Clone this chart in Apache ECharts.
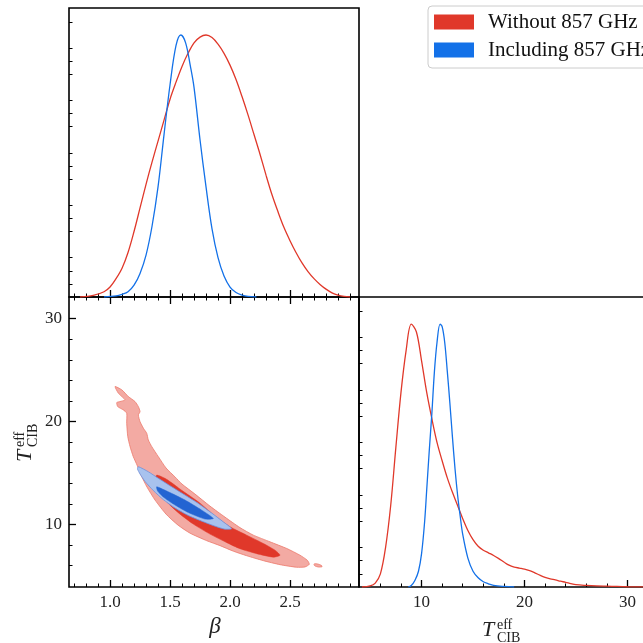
<!DOCTYPE html>
<html><head><meta charset="utf-8">
<script src="https://cdn.jsdelivr.net/npm/echarts@6/dist/echarts.min.js"></script>
<style>html,body{margin:0;padding:0;background:#fff}#c{width:643px;height:643px}</style>
</head><body><div id="c"></div>
<script>
// ---------- data ----------
const seriesNames = ['Without 857 GHz', 'Including 857 GHz'];
const betaTicks = [1.0, 1.5, 2.0, 2.5];
const betaMinorTicks = [0.7,0.8,0.9,1.1,1.2,1.3,1.4,1.6,1.7,1.8,1.9,2.1,2.2,2.3,2.4,2.6,2.7,2.8,2.9,3.0];
const tTicks = [10, 20, 30];
const tMinorTicks = [6,8,12,14,16,18,22,24,26,28];
const densMinorTicks = [0.05,0.1,0.15,0.25,0.3,0.35,0.45,0.5,0.55,0.65,0.7,0.75,0.85,0.9,0.95,1.05];
const betaRange = [0.658, 3.075];
const tRange = [3.92, 32.1];
const densMax = 1.103;

// 1D marginal: beta, without 857
const betaGridRed = [0.75,0.86,0.95,1.0,1.05,1.10,1.15,1.20,1.25,1.30,1.35,1.40,1.45,1.50,1.55,1.60,1.65,1.70,1.75,1.80,1.85,1.90,1.95,2.00,2.05,2.10,2.15,2.20,2.25,2.30,2.35,2.40,2.45,2.50,2.55,2.60,2.65,2.70,2.75,2.80,2.85,2.90,2.95,3.00];
const betaDensRed = [0,0.006,0.02,0.038,0.07,0.11,0.17,0.25,0.34,0.43,0.515,0.595,0.675,0.755,0.82,0.88,0.93,0.97,0.992,1.0,0.99,0.965,0.93,0.885,0.83,0.765,0.695,0.62,0.545,0.465,0.39,0.325,0.265,0.215,0.17,0.13,0.097,0.07,0.048,0.03,0.016,0.007,0.002,0];
// 1D marginal: beta, including 857
const betaGridBlue = [0.95,1.05,1.10,1.15,1.20,1.25,1.30,1.35,1.40,1.45,1.50,1.55,1.59,1.63,1.67,1.70,1.75,1.80,1.85,1.90,1.95,2.00,2.05,2.10,2.15,2.22];
const betaDensBlue = [0,0.004,0.01,0.02,0.045,0.09,0.16,0.27,0.42,0.62,0.81,0.96,1.0,0.97,0.88,0.80,0.60,0.42,0.26,0.15,0.08,0.038,0.017,0.007,0.002,0];
// 1D marginal: T_CIB, without 857
const tGridRed = [4.2,5.0,5.5,6.0,6.5,7.0,7.5,8.0,8.5,9.0,9.5,10.0,10.5,11.0,11.5,12.0,12.5,13.0,13.5,14.0,14.5,15.0,15.5,16.0,16.5,17.0,17.5,18.0,18.5,19.0,19.5,20.0,20.5,21.0,21.5,22.0,22.5,23.0,23.5,24.0,24.5,25.0,26.0,27.0,28.0,29.0,30.0,32.0];
const tDensRed = [0,0.004,0.015,0.05,0.15,0.31,0.53,0.74,0.90,1.0,0.97,0.86,0.74,0.64,0.55,0.48,0.415,0.36,0.31,0.26,0.215,0.18,0.155,0.14,0.13,0.12,0.108,0.095,0.083,0.076,0.072,0.068,0.062,0.054,0.045,0.037,0.031,0.027,0.022,0.018,0.013,0.009,0.006,0.004,0.003,0.002,0.001,0];
// 1D marginal: T_CIB, including 857
const tGridBlue = [8.7,9.0,9.35,9.7,10.0,10.3,10.5,10.75,11.0,11.25,11.5,11.8,12.0,12.25,12.5,12.75,13.0,13.25,13.5,13.75,14.0,14.5,15.0,15.5,16.0,16.5,17.0,18.0,19.0];
const tDensBlue = [0,0.006,0.025,0.06,0.127,0.25,0.37,0.52,0.66,0.82,0.93,1.0,0.99,0.93,0.82,0.70,0.57,0.45,0.35,0.27,0.20,0.11,0.06,0.035,0.02,0.012,0.006,0.002,0];

// 2D contours (beta, T_CIB)
const redContour95 = [[1.042,23.40],[1.098,23.08],[1.153,22.42],[1.208,21.94],[1.236,21.45],[1.250,20.96],[1.236,20.64],[1.250,19.99],[1.278,19.35],[1.306,18.86],[1.319,18.21],[1.348,17.56],[1.403,16.58],[1.467,15.48],[1.542,14.61],[1.600,13.92],[1.708,12.95],[1.833,11.78],[1.958,10.71],[2.083,9.69],[2.194,8.96],[2.333,8.31],[2.473,7.66],[2.583,7.01],[2.644,6.52],[2.661,6.13],[2.625,5.87],[2.556,5.84],[2.417,6.09],[2.278,6.48],[2.139,6.96],[2.028,7.40],[1.917,7.94],[1.806,8.42],[1.667,9.15],[1.567,9.93],[1.467,11.00],[1.375,12.37],[1.308,13.63],[1.258,14.80],[1.225,15.77],[1.194,16.58],[1.167,17.56],[1.148,18.53],[1.139,19.83],[1.139,20.81],[1.111,21.13],[1.064,21.45],[1.056,21.84],[1.083,21.94],[1.125,22.10],[1.069,22.76]];
const redIsland95 = [[2.704,6.18],[2.733,6.15],[2.763,6.01],[2.767,5.89],[2.738,5.86],[2.708,5.96],[2.700,6.08]];
const redContour68 = [[1.389,14.80],[1.458,14.48],[1.517,14.02],[1.583,13.44],[1.667,12.76],[1.750,12.07],[1.875,10.81],[2.000,9.77],[2.139,8.96],[2.278,8.15],[2.375,7.50],[2.417,7.01],[2.361,6.82],[2.222,7.16],[2.083,7.64],[1.973,8.23],[1.833,9.06],[1.694,10.03],[1.583,11.00],[1.483,12.07],[1.425,13.05],[1.392,14.02],[1.382,14.51]];
const blueContour95 = [[1.236,15.61],[1.319,15.12],[1.403,14.48],[1.514,13.66],[1.625,12.85],[1.736,12.04],[1.848,11.10],[1.944,10.25],[2.014,9.59],[1.958,9.54],[1.875,9.83],[1.764,10.32],[1.653,10.86],[1.542,11.59],[1.444,12.41],[1.361,13.29],[1.292,14.17],[1.250,14.90],[1.229,15.38]];
const blueContour68 = [[1.389,13.66],[1.486,13.17],[1.625,12.37],[1.764,11.39],[1.861,10.58],[1.792,10.52],[1.653,11.15],[1.542,11.88],[1.444,12.66],[1.397,13.24]];

// ---------- styling ----------
const RED = '#e0382a', BLUE = '#1371e8';
const SERIF = '"Liberation Serif", "DejaVu Serif", serif';

function tickAxis(type, grid, pos, range, ticks, len, width, labelFmt) {
  const a = {
    type: 'value', gridIndex: grid, position: pos, min: range[0], max: range[1],
    axisLine: { show: false }, splitLine: { show: false },
    axisTick: { show: true, inside: true, length: len, customValues: ticks, lineStyle: { color: '#000', width: width } },
    axisLabel: { show: false }
  };
  if (labelFmt) {
    a.axisLabel = { show: true, customValues: ticks, margin: 7, color: '#222', fontFamily: SERIF, fontSize: 17, formatter: labelFmt };
  }
  return a;
}
const fmtB = v => Number(v).toFixed(1);
const fmtT = v => String(Math.round(v));

const xAxes = [
  tickAxis('x', 0, 'bottom', betaRange, betaTicks, 7, 1.3),          //0
  tickAxis('x', 0, 'bottom', betaRange, betaMinorTicks, 3.5, 1),     //1
  tickAxis('x', 1, 'bottom', betaRange, betaTicks, 7, 1.3, fmtB),    //2
  tickAxis('x', 1, 'bottom', betaRange, betaMinorTicks, 3.5, 1),     //3
  tickAxis('x', 1, 'top', betaRange, betaTicks, 7, 1.3),             //4
  tickAxis('x', 1, 'top', betaRange, betaMinorTicks, 3.5, 1),        //5
  tickAxis('x', 2, 'bottom', tRange, tTicks, 7, 1.3, fmtT),          //6
  tickAxis('x', 2, 'bottom', tRange, tMinorTicks, 3.5, 1)            //7
];
const yAxes = [
  tickAxis('y', 0, 'left', [0, densMax], densMinorTicks, 3.5, 1),    //0
  tickAxis('y', 1, 'left', tRange, tTicks, 7, 1.3, fmtT),            //1
  tickAxis('y', 1, 'left', tRange, tMinorTicks, 3.5, 1),             //2
  tickAxis('y', 2, 'left', [0, densMax], densMinorTicks, 3.5, 1)     //3
];

function lineSeries(name, xs, ys, color, xi, yi) {
  return {
    type: 'line', name: name, xAxisIndex: xi, yAxisIndex: yi,
    data: xs.map((x, i) => [x, ys[i]]), showSymbol: false, symbol: 'none',
    smooth: 0.35, lineStyle: { color: color, width: 1.3 }, itemStyle: { color: color },
    silent: true, z: 3
  };
}
function polySeries(pts, fill, stroke, sw, z) {
  return {
    type: 'custom', coordinateSystem: 'cartesian2d', xAxisIndex: 2, yAxisIndex: 1,
    data: pts, encode: { x: 0, y: 1 }, silent: true, z: z, clip: true,
    renderItem: function (params, api) {
      if (params.dataIndex !== 0) return null;
      const points = pts.map(p => api.coord(p));
      return { type: 'polygon', shape: { points: points, smooth: 0.2 },
        style: { fill: fill, stroke: stroke, lineWidth: sw } };
    }
  };
}

function tLabel(x, y, rot) {
  const txt = (t, dx, dy, font) => ({
    type: 'text', x: dx, y: dy,
    style: { text: t, font: font, fill: '#222', textAlign: 'left', align: 'left', textVerticalAlign: 'middle', verticalAlign: 'middle' }
  });
  return {
    type: 'group', x: x, y: y, rotation: rot,
    children: [
      txt('T', 0, -7.5, 'italic 22px ' + SERIF),
      txt('eff', 15, -12.8, '14px ' + SERIF),
      txt('CIB', 15, 0.5, '14px ' + SERIF)
    ]
  };
}

const chart = echarts.init(document.getElementById('c'), null, { renderer: 'canvas' });
chart.setOption({
  animation: false,
  backgroundColor: '#fff',
  grid: [
    { left: 69, top: 8, width: 290, height: 289, show: true, borderColor: '#000', borderWidth: 1.6, containLabel: false, outerBoundsMode: 'none' },
    { left: 69, top: 297, width: 290, height: 290, show: true, borderColor: '#000', borderWidth: 1.6, containLabel: false, outerBoundsMode: 'none' },
    { left: 359, top: 297, width: 290, height: 290, show: true, borderColor: '#000', borderWidth: 1.6, containLabel: false, outerBoundsMode: 'none' }
  ],
  xAxis: xAxes,
  yAxis: yAxes,
  legend: {
    orient: 'vertical', left: 428, top: 6, padding: [5.5, 10, 7.5, 6],
    itemWidth: 40, itemHeight: 15, itemGap: 7,
    backgroundColor: '#fff', borderColor: '#cccccc', borderWidth: 1, borderRadius: 4,
    textStyle: { fontFamily: SERIF, fontSize: 21, color: '#111', lineHeight: 20, padding: [0, 0, 0, 9] },
    selectedMode: false,
    data: [
      { name: seriesNames[0], icon: 'rect', itemStyle: { color: RED } },
      { name: seriesNames[1], icon: 'rect', itemStyle: { color: BLUE } }
    ]
  },
  graphic: { elements: [
    { type: 'text', x: 215, y: 627, style: { text: 'β', font: 'italic 23px ' + SERIF, fill: '#222', textAlign: 'center', align: 'center', textVerticalAlign: 'middle', verticalAlign: 'middle' } },
    tLabel(482, 638, 0),
    tLabel(33, 462, Math.PI / 2)
  ] },
  series: [
    polySeries(redContour95, '#f3aaa3', '#ec7a6c', 0.8, 1),
    polySeries(redIsland95, '#f3aaa3', '#ec7a6c', 0.8, 1),
    polySeries(redContour68, '#e0382a', '#e0382a', 0.5, 1),
    polySeries(blueContour95, '#a8c2ee', '#6d90dc', 0.8, 2),
    polySeries(blueContour68, '#2364d2', '#2364d2', 0.5, 2),
    lineSeries(seriesNames[0], betaGridRed, betaDensRed, RED, 0, 0),
    lineSeries(seriesNames[1], betaGridBlue, betaDensBlue, BLUE, 0, 0),
    lineSeries(seriesNames[0], tGridRed, tDensRed, RED, 6, 3),
    lineSeries(seriesNames[1], tGridBlue, tDensBlue, BLUE, 6, 3)
  ]
});
</script>
</body></html>
